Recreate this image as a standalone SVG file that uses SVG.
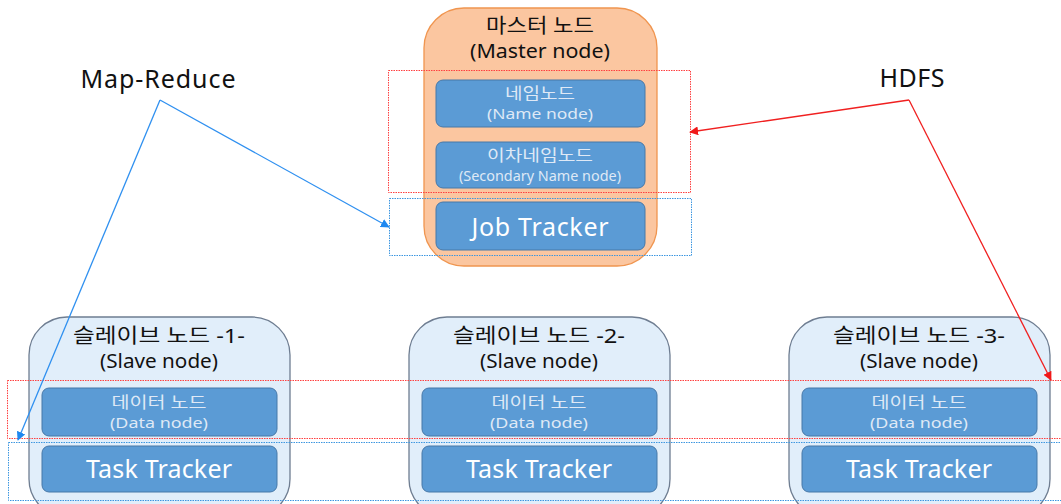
<svg xmlns="http://www.w3.org/2000/svg" width="1061" height="504" viewBox="0 0 1061 504">
<defs>
<style>
text{font-family:"Noto Sans","Noto Sans CJK KR",sans-serif;text-anchor:middle}
.title{font-size:20px;fill:#111}
.big{font-size:25px;fill:#fff}
.k{font-size:16px;fill:#dfe9f6}
.e{font-size:14px;fill:#dfe9f6}
.lab{font-size:25px;fill:#111}
.master{fill:#FBC6A0;stroke:#F0954F;stroke-width:1.3}
.slave{fill:#E1EEFA;stroke:#6E7D91;stroke-width:1.3}
.inner{fill:#5B9BD5;stroke:#4778A8;stroke-width:1}
.rbox{fill:none;stroke:#FF4040;stroke-width:1;stroke-dasharray:1.5 1}
.bbox{fill:none;stroke:#3C96E0;stroke-width:1;stroke-dasharray:1.5 1}
</style>
<marker id="ab" viewBox="0 0 10 10" refX="9" refY="5" markerWidth="9" markerHeight="9" markerUnits="userSpaceOnUse" orient="auto"><path d="M0,0L10,5L0,10z" fill="#1E88F0"/></marker>
<marker id="ar" viewBox="0 0 10 10" refX="9" refY="5" markerWidth="9" markerHeight="9" markerUnits="userSpaceOnUse" orient="auto"><path d="M0,0L10,5L0,10z" fill="#F01818"/></marker>
</defs>
<rect width="1061" height="504" fill="#fff"/>
<g id="master">
<rect class="master" x="424" y="8" width="233" height="258" rx="40"/>
<text class="title" x="540" y="33" textLength="108" lengthAdjust="spacingAndGlyphs">마스터 노드</text>
<text class="title" x="540" y="58" textLength="140" lengthAdjust="spacingAndGlyphs">(Master node)</text>
</g>
<g id="namenode">
<rect class="inner" x="436" y="80" width="209" height="47" rx="7"/>
<text class="k" x="540" y="99" textLength="70" lengthAdjust="spacingAndGlyphs">네임노드</text>
<text class="e" x="540" y="119" textLength="106" lengthAdjust="spacingAndGlyphs">(Name node)</text>
</g>
<g id="secondary">
<rect class="inner" x="436" y="142" width="209" height="46" rx="7"/>
<text class="k" x="540" y="161" textLength="106" lengthAdjust="spacingAndGlyphs">이차네임노드</text>
<text class="e" x="540" y="181" textLength="162" lengthAdjust="spacingAndGlyphs">(Secondary Name node)</text>
</g>
<g id="jobtracker">
<rect class="inner" x="436" y="202" width="209" height="48" rx="7"/>
<text class="big" x="540" y="236" textLength="137">Job Tracker</text>
</g>
<g id="slave1">
<rect class="slave" x="29" y="317" width="261" height="200" rx="38"/>
<text class="title" x="159" y="343" textLength="172" lengthAdjust="spacingAndGlyphs">슬레이브 노드 -1-</text>
<text class="title" x="159" y="368" textLength="118" lengthAdjust="spacingAndGlyphs">(Slave node)</text>
<rect class="inner" x="42" y="388" width="235" height="48" rx="7"/>
<text class="k" x="159" y="408" textLength="95" lengthAdjust="spacingAndGlyphs">데이터 노드</text>
<text class="e" x="159" y="428" textLength="98" lengthAdjust="spacingAndGlyphs">(Data node)</text>
<rect class="inner" x="42" y="446" width="235" height="46" rx="7"/>
<text class="big" x="159" y="478" textLength="146">Task Tracker</text>
</g>
<g id="slave2">
<rect class="slave" x="409" y="317" width="261" height="200" rx="38"/>
<text class="title" x="539" y="343" textLength="172" lengthAdjust="spacingAndGlyphs">슬레이브 노드 -2-</text>
<text class="title" x="539" y="368" textLength="118" lengthAdjust="spacingAndGlyphs">(Slave node)</text>
<rect class="inner" x="422" y="388" width="235" height="48" rx="7"/>
<text class="k" x="539" y="408" textLength="95" lengthAdjust="spacingAndGlyphs">데이터 노드</text>
<text class="e" x="539" y="428" textLength="98" lengthAdjust="spacingAndGlyphs">(Data node)</text>
<rect class="inner" x="422" y="446" width="235" height="46" rx="7"/>
<text class="big" x="539" y="478" textLength="146">Task Tracker</text>
</g>
<g id="slave3">
<rect class="slave" x="789" y="317" width="261" height="200" rx="38"/>
<text class="title" x="919" y="343" textLength="172" lengthAdjust="spacingAndGlyphs">슬레이브 노드 -3-</text>
<text class="title" x="919" y="368" textLength="118" lengthAdjust="spacingAndGlyphs">(Slave node)</text>
<rect class="inner" x="802" y="388" width="235" height="48" rx="7"/>
<text class="k" x="919" y="408" textLength="95" lengthAdjust="spacingAndGlyphs">데이터 노드</text>
<text class="e" x="919" y="428" textLength="98" lengthAdjust="spacingAndGlyphs">(Data node)</text>
<rect class="inner" x="802" y="446" width="235" height="46" rx="7"/>
<text class="big" x="919" y="478" textLength="146">Task Tracker</text>
</g>
<g id="groups">
<rect class="rbox" x="388.5" y="70.5" width="302" height="122"/>
<rect class="bbox" x="389.5" y="198.5" width="302" height="57"/>
<rect class="rbox" x="7.5" y="380.5" width="1060" height="58"/>
<rect class="bbox" x="8.5" y="442.5" width="1060" height="58"/>
</g>
<g id="labels">
<text class="lab" x="158" y="88" textLength="155">Map-Reduce</text>
<text class="lab" x="912" y="87" textLength="65">HDFS</text>
</g>
<g id="connectors" fill="none" stroke-width="1.3">
<path d="M160,100L389,227" stroke="#2F90F0" marker-end="url(#ab)"/>
<path d="M160,100L18,440" stroke="#2F90F0" marker-end="url(#ab)"/>
<path d="M909,100L1051,380" stroke="#F02020" marker-end="url(#ar)"/>
<path d="M909,100L690,132" stroke="#F02020" marker-end="url(#ar)"/>
</g>
</svg>
